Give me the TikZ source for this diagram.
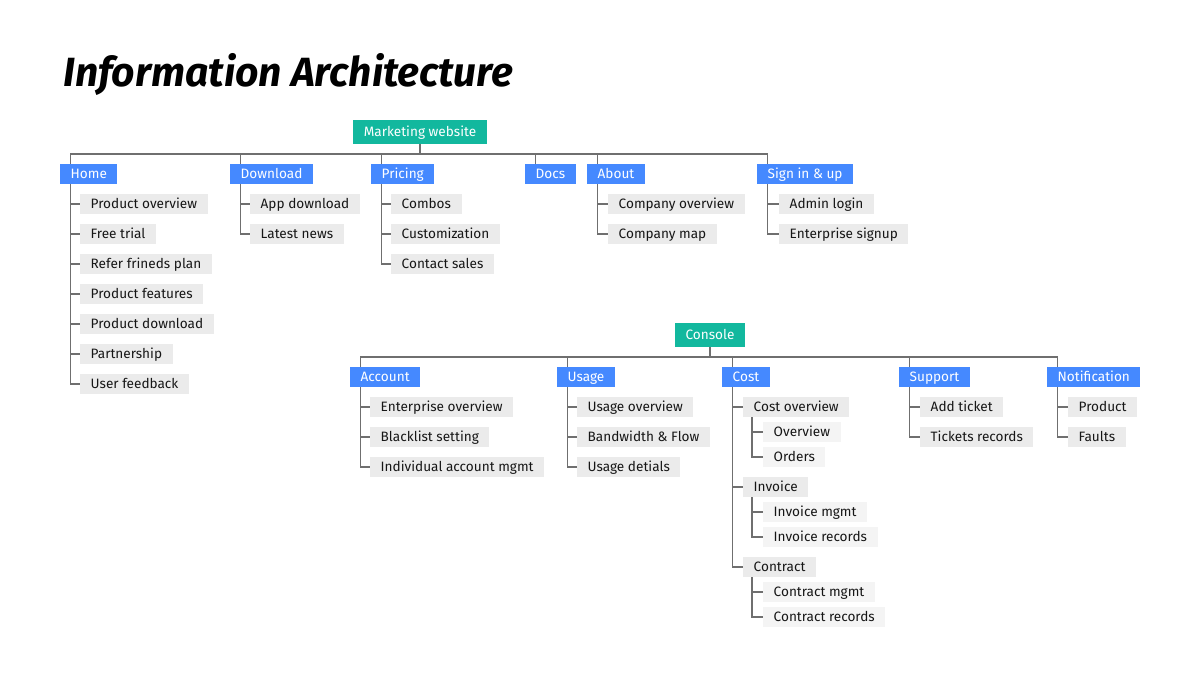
\documentclass[tikz,border=0pt]{standalone}
\usepackage{fontspec}
\usepackage{graphicx}
\setmainfont{Fira Sans}
\newfontfamily\titlefont{Fira Sans}
\definecolor{tealc}{HTML}{12B89E}
\definecolor{bluec}{HTML}{4589FF}
\definecolor{grayc}{HTML}{EBEBEB}
\definecolor{lgrayc}{HTML}{F4F4F4}
\definecolor{linec}{HTML}{6F6F6F}
\definecolor{textc}{HTML}{161616}
\begin{document}
\begin{tikzpicture}[x=1pt,y=-1pt,
  box/.style={inner xsep=10.5pt, inner ysep=0pt, minimum height=20pt, text height=12.4pt, text depth=3pt, font=\fontsize{13.6}{15}\selectfont},
  rootbox/.style={box, fill=tealc, text=white, minimum height=24pt},
  lone/.style={box, fill=bluec, text=white, anchor=west},
  ltwo/.style={box, fill=grayc, text=textc, anchor=west},
  lthree/.style={box, fill=lgrayc, text=textc, anchor=west},
  conn/.style={draw=linec, line width=1.8pt}
]
\useasboundingbox (0,0) rectangle (1200,675);
\node[anchor=base west, inner sep=0pt] (title) at (63,86) {\resizebox{450pt}{!}{\titlefont\bfseries\itshape Information Architecture}};

% Marketing website
\node[rootbox] (mw) at (420,132) {Marketing website};
\node[lone] (home) at (60,174) {Home};
\node[lone] (dl) at (230,174) {Download};
\node[lone] (pr) at (371,174) {Pricing};
\node[lone] (docs) at (525,174) {Docs};
\node[lone] (about) at (587,174) {About};
\node[lone] (sign) at (757,174) {Sign in \& up};

\foreach \n in {home,dl,pr,docs,about,sign}
  \draw[conn] (mw.south) -- ++(0,9.5) -| ([xshift=10.5pt]\n.north west);

\node[ltwo] (h1) at (80,204) {Product overview};
\node[ltwo] (h2) at (80,234) {Free trial};
\node[ltwo] (h3) at (80,264) {Refer frineds plan};
\node[ltwo] (h4) at (80,294) {Product features};
\node[ltwo] (h5) at (80,324) {Product download};
\node[ltwo] (h6) at (80,354) {Partnership};
\node[ltwo] (h7) at (80,384) {User feedback};
\foreach \n in {h1,h2,h3,h4,h5,h6,h7}
  \draw[conn] ([xshift=10.5pt]home.south west) |- (\n.west);

\node[ltwo] (d1) at (250,204) {App download};
\node[ltwo] (d2) at (250,234) {Latest news};
\foreach \n in {d1,d2}
  \draw[conn] ([xshift=10.5pt]dl.south west) |- (\n.west);

\node[ltwo] (p1) at (391,204) {Combos};
\node[ltwo] (p2) at (391,234) {Customization};
\node[ltwo] (p3) at (391,264) {Contact sales};
\foreach \n in {p1,p2,p3}
  \draw[conn] ([xshift=10.5pt]pr.south west) |- (\n.west);

\node[ltwo] (a1) at (608,204) {Company overview};
\node[ltwo] (a2) at (608,234) {Company map};
\foreach \n in {a1,a2}
  \draw[conn] ([xshift=10.5pt]about.south west) |- (\n.west);

\node[ltwo] (s1) at (779,204) {Admin login};
\node[ltwo] (s2) at (779,234) {Enterprise signup};
\foreach \n in {s1,s2}
  \draw[conn] ([xshift=10.5pt]sign.south west) |- (\n.west);

% Console
\node[rootbox] (con) at (710,335) {Console};
\node[lone] (acc) at (350,377) {Account};
\node[lone] (use) at (557,377) {Usage};
\node[lone] (cost) at (722,377) {Cost};
\node[lone] (sup) at (899,377) {Support};
\node[lone] (noti) at (1047,377) {Notification};
\foreach \n in {acc,use,cost,sup,noti}
  \draw[conn] (con.south) -- ++(0,10) -| ([xshift=10.5pt]\n.north west);

\node[ltwo] (ac1) at (370,407) {Enterprise overview};
\node[ltwo] (ac2) at (370,437) {Blacklist setting};
\node[ltwo] (ac3) at (370,467) {Individual account mgmt};
\foreach \n in {ac1,ac2,ac3}
  \draw[conn] ([xshift=10.5pt]acc.south west) |- (\n.west);

\node[ltwo] (u1) at (577,407) {Usage overview};
\node[ltwo] (u2) at (577,437) {Bandwidth \& Flow};
\node[ltwo] (u3) at (577,467) {Usage detials};
\foreach \n in {u1,u2,u3}
  \draw[conn] ([xshift=10.5pt]use.south west) |- (\n.west);

\node[ltwo] (c1) at (743,407) {Cost overview};
\node[ltwo] (c2) at (743,487) {Invoice};
\node[ltwo] (c3) at (743,567) {Contract};
\foreach \n in {c1,c2,c3}
  \draw[conn] ([xshift=10.5pt]cost.south west) |- (\n.west);

\node[lthree] (c11) at (763,432) {Overview};
\node[lthree] (c12) at (763,457) {Orders};
\foreach \n in {c11,c12}
  \draw[conn] ([xshift=9pt]c1.south west) |- (\n.west);
\node[lthree] (c21) at (763,512) {Invoice mgmt};
\node[lthree] (c22) at (763,537) {Invoice records};
\foreach \n in {c21,c22}
  \draw[conn] ([xshift=9pt]c2.south west) |- (\n.west);
\node[lthree] (c31) at (763,592) {Contract mgmt};
\node[lthree] (c32) at (763,617) {Contract records};
\foreach \n in {c31,c32}
  \draw[conn] ([xshift=9pt]c3.south west) |- (\n.west);

\node[ltwo] (su1) at (920,407) {Add ticket};
\node[ltwo] (su2) at (920,437) {Tickets records};
\foreach \n in {su1,su2}
  \draw[conn] ([xshift=10.5pt]sup.south west) |- (\n.west);

\node[ltwo] (n1) at (1068,407) {Product};
\node[ltwo] (n2) at (1068,437) {Faults};
\foreach \n in {n1,n2}
  \draw[conn] ([xshift=10.5pt]noti.south west) |- (\n.west);
\end{tikzpicture}
\end{document}
